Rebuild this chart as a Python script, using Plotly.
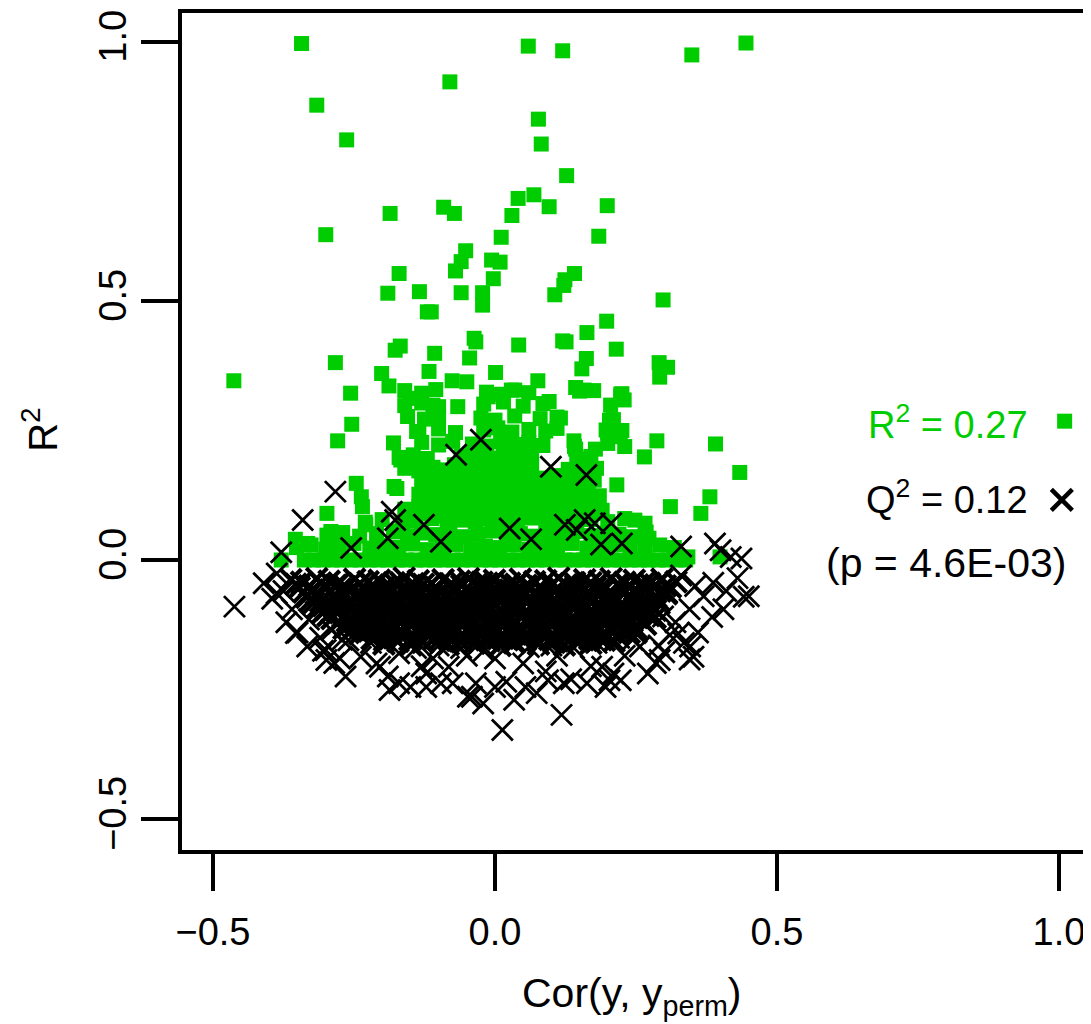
import plotly.graph_objects as go

# ---------------- data ----------------
# Permuted models: R2Y (green squares), scattered outliers
r2_out_x = [-0.343, 0.059, 0.120, 0.349, 0.445, -0.080, -0.316, 0.077, -0.263, 0.082,
            0.127, 0.041, 0.069, 0.096, 0.199, -0.186, -0.091, -0.072, 0.030, -0.300,
            0.011, 0.184, -0.052, -0.060, -0.070, -0.006, 0.009, -0.003, -0.170, 0.141,
            0.124, 0.122, 0.106, -0.190, -0.134, -0.060, -0.022, -0.022, 0.298, -0.120,
            -0.113, 0.198, 0.163, -0.037, -0.034, 0.042, 0.120, 0.126, -0.177, -0.168,
            -0.107, -0.045, 0.215, -0.283, 0.162, 0.154, 0.291, 0.306, 0.292, -0.463,
            -0.201, -0.188, -0.117, -0.076, -0.050, 0.001, 0.076, 0.143, 0.175, 0.223,
            0.229, -0.256, -0.151, -0.110, -0.066, -0.012, 0.029, 0.096, 0.116, 0.203,
            -0.254, -0.279, -0.180, -0.139, 0.197, 0.222, 0.287, 0.391, 0.265, 0.143,
            0.178, 0.434, 0.216, 0.381, 0.311, 0.365, 0.399, -0.246, -0.237, -0.235,
            -0.229, -0.298, -0.174, -0.158, -0.354, -0.332, -0.291, -0.279, 0.248, 0.266,
            0.273, 0.317, 0.342, -0.167, -0.179, 0.158, 0.223, 0.141, 0.176]
r2_out_y = [0.997, 0.992, 0.983, 0.975, 0.998, 0.923, 0.878, 0.851, 0.811, 0.803,
            0.742, 0.698, 0.705, 0.682, 0.684, 0.669, 0.681, 0.669, 0.665, 0.628,
            0.623, 0.625, 0.597, 0.576, 0.558, 0.579, 0.575, 0.543, 0.553, 0.553,
            0.541, 0.530, 0.512, 0.515, 0.518, 0.516, 0.516, 0.492, 0.502, 0.479,
            0.479, 0.461, 0.439, 0.428, 0.421, 0.415, 0.423, 0.421, 0.405, 0.413,
            0.399, 0.390, 0.407, 0.381, 0.389, 0.369, 0.381, 0.372, 0.353, 0.346,
            0.360, 0.336, 0.364, 0.346, 0.344, 0.362, 0.346, 0.333, 0.327, 0.320,
            0.309, 0.322, 0.312, 0.299, 0.296, 0.315, 0.328, 0.306, 0.274, 0.270,
            0.262, 0.230, 0.226, 0.248, 0.251, 0.238, 0.230, 0.224, 0.199, 0.214,
            0.214, 0.169, 0.145, 0.122, 0.103, 0.090, 0.006, 0.148, 0.122, 0.103,
            0.068, 0.090, 0.138, 0.093, 0.040, 0.032, 0.055, 0.039, 0.077, 0.071,
            0.042, 0.019, 0.006, 0.193, 0.142, 0.328, 0.315, 0.219, 0.154]

# R2Y permuted models: dense part (read row by row from the green mass)
r2_zero_x = [-0.379, -0.338, -0.322, -0.305, -0.289, -0.272, -0.256, -0.239, -0.223, -0.206,
             -0.190, -0.173, -0.157, -0.140, -0.124, -0.107, -0.091, -0.074, -0.058, -0.041,
             -0.025, -0.008, 0.008, 0.025, 0.041, 0.058, 0.074, 0.091, 0.107, 0.124,
             0.140, 0.157, 0.173, 0.190, 0.206, 0.223, 0.239, 0.256, 0.272, 0.289,
             0.305, 0.322, 0.338]
r2_zero_y = [0.0] * 43  # R2 values of 0 (flat band at zero)

r2_a_x = [-0.352, -0.326, -0.300, -0.276, -0.250, -0.222, -0.197, -0.171, -0.146, -0.120,
          -0.094, -0.069, -0.043, -0.017, 0.008, 0.034, 0.060, 0.086, 0.111, 0.137,
          0.163, 0.189, 0.214, 0.240, 0.266, 0.292, 0.318]
r2_a_y = [0.024, 0.029, 0.021, 0.027, 0.032, 0.023, 0.028, 0.025, 0.031, 0.020,
          0.026, 0.030, 0.022, 0.027, 0.024, 0.029, 0.021, 0.028, 0.025, 0.032,
          0.023, 0.027, 0.030, 0.022, 0.026, 0.029, 0.024]
r2_b_x = [-0.298, -0.270, -0.240, -0.210, -0.180, -0.155, -0.130, -0.105, -0.080, -0.055,
          -0.030, -0.005, 0.020, 0.045, 0.070, 0.095, 0.120, 0.145, 0.170, 0.195,
          0.220, 0.245, 0.268]
r2_b_y = [0.048, 0.053, 0.046, 0.051, 0.055, 0.047, 0.052, 0.049, 0.054, 0.045,
          0.050, 0.056, 0.048, 0.051, 0.046, 0.053, 0.049, 0.055, 0.047, 0.052,
          0.050, 0.045, 0.054]
r2_c_x = [-0.230, -0.200, -0.165, -0.140, -0.112, -0.085, -0.060, -0.035, -0.010, 0.015,
          0.040, 0.065, 0.090, 0.115, 0.140, 0.170, 0.200, 0.230]
r2_c_y = [0.073, 0.078, 0.071, 0.076, 0.080, 0.072, 0.077, 0.074, 0.079, 0.070,
          0.075, 0.081, 0.073, 0.076, 0.071, 0.078, 0.074, 0.080]
r2_n_x = [-0.148, -0.122, -0.097, -0.072, -0.047, -0.022, 0.003, 0.028, 0.053, 0.078,
          0.103, 0.128, 0.153, 0.178]
r2_n_y = [0.087, 0.090, 0.085, 0.089, 0.092, 0.086, 0.088, 0.091, 0.084, 0.089,
          0.087, 0.093, 0.086, 0.090]
r2_d_x = [-0.160, -0.135, -0.110, -0.085, -0.060, -0.035, -0.010, 0.015, 0.040, 0.065,
          0.090, 0.115, 0.140, 0.165, 0.190]
r2_d_y = [0.098, 0.103, 0.096, 0.101, 0.105, 0.097, 0.102, 0.099, 0.104, 0.095,
          0.100, 0.106, 0.098, 0.101, 0.096]
r2_o_x = [-0.122, -0.097, -0.072, -0.047, -0.022, 0.003, 0.028, 0.053, 0.078, 0.103,
          0.128, 0.153, 0.176]
r2_o_y = [0.111, 0.114, 0.109, 0.113, 0.116, 0.110, 0.112, 0.115, 0.108, 0.113,
          0.111, 0.117, 0.110]
r2_e_x = [-0.135, -0.110, -0.085, -0.060, -0.035, -0.010, 0.015, 0.040, 0.065, 0.090,
          0.115, 0.140, 0.165, 0.185]
r2_e_y = [0.127, 0.122, 0.129, 0.124, 0.120, 0.128, 0.123, 0.126, 0.121, 0.130,
          0.125, 0.119, 0.127, 0.124]
r2_p_x = [-0.118, -0.092, -0.067, -0.042, -0.017, 0.008, 0.033, 0.058, 0.083, 0.108,
          0.133, 0.158]
r2_p_y = [0.136, 0.139, 0.134, 0.138, 0.141, 0.135, 0.137, 0.140, 0.133, 0.138,
          0.136, 0.142]
r2_f_x = [-0.130, -0.105, -0.080, -0.055, -0.030, -0.005, 0.020, 0.045, 0.070, 0.095,
          0.120, 0.145]
r2_f_y = [0.148, 0.153, 0.146, 0.151, 0.155, 0.147, 0.152, 0.149, 0.154, 0.145,
          0.150, 0.156]
r2_q_x = [-0.118, -0.093, -0.068, -0.043, -0.018, 0.007, 0.032, 0.057, 0.082, 0.107, 0.140]
r2_q_y = [0.161, 0.164, 0.159, 0.163, 0.166, 0.160, 0.162, 0.165, 0.158, 0.163, 0.161]
r2_g_x = [-0.160, -0.135, -0.110, -0.085, -0.060, -0.035, -0.010, 0.015, 0.040, 0.065,
          0.130, 0.155, 0.180]
r2_g_y = [0.177, 0.172, 0.179, 0.174, 0.170, 0.178, 0.173, 0.176, 0.171, 0.180,
          0.175, 0.169, 0.177]
r2_r_x = [-0.148, -0.122, -0.072, -0.047, -0.022, 0.003, 0.028, 0.053, 0.160]
r2_r_y = [0.186, 0.189, 0.184, 0.188, 0.191, 0.185, 0.187, 0.190, 0.183]
r2_h_x = [-0.170, -0.145, -0.120, -0.060, -0.035, -0.010, 0.015, 0.040, 0.065, 0.145, 0.170]
r2_h_y = [0.198, 0.203, 0.196, 0.201, 0.205, 0.197, 0.202, 0.199, 0.204, 0.195, 0.200]
r2_i_x = [-0.130, -0.100, -0.075, -0.040, -0.015, 0.010, 0.035, 0.060, 0.085, 0.140, 0.200, 0.230]
r2_i_y = [0.227, 0.222, 0.229, 0.224, 0.220, 0.228, 0.223, 0.226, 0.221, 0.230, 0.225, 0.219]
r2_j_x = [-0.135, -0.100, -0.070, -0.020, 0.005, 0.030, 0.060, 0.090, 0.110, 0.200, 0.225]
r2_j_y = [0.248, 0.253, 0.246, 0.251, 0.255, 0.247, 0.252, 0.249, 0.254, 0.245, 0.250]
r2_k_x = [-0.155, -0.125, -0.100, -0.025, 0.000, 0.035, 0.080, 0.110, 0.210]
r2_k_y = [0.277, 0.272, 0.279, 0.274, 0.270, 0.278, 0.273, 0.276, 0.271]
r2_l_x = [-0.160, -0.130, -0.100, -0.020, 0.015, 0.050, 0.085, 0.205]
r2_l_y = [0.298, 0.303, 0.296, 0.301, 0.305, 0.297, 0.302, 0.299]
r2_m_x = [-0.160, -0.130, -0.105, -0.015, 0.010, 0.035, 0.060, 0.150, 0.225]
r2_m_y = [0.327, 0.322, 0.329, 0.324, 0.320, 0.328, 0.323, 0.326, 0.321]

# Permuted models: Q2Y (black crosses), above zero and outer fringe
q2_out_x = [-0.283, -0.341, -0.183, -0.177, -0.190, -0.126, -0.069, -0.025, 0.099, 0.162,
            0.026, 0.124, 0.159, 0.206, 0.225, 0.390, 0.418, 0.330, 0.145, 0.177,
            -0.379, -0.255, 0.064, -0.096, 0.188,
            -0.462, -0.387, -0.387, -0.333, -0.265, -0.190, -0.150, -0.075, -0.021, 0.013,
            0.118, 0.034, 0.163, 0.203, 0.271, 0.352, 0.346, 0.437, 0.441, 0.387,
            0.400, 0.298, 0.325, 0.257, -0.299, -0.238, -0.082, 0.074, -0.048, -0.187,
            -0.122, -0.034, 0.054, 0.210, 0.170, 0.292, 0.196, -0.210, -0.170, -0.130,
            -0.110, -0.050, 0.000, 0.020, 0.050, 0.090, 0.110, 0.135, 0.230, 0.300,
            0.345, -0.410, -0.395, -0.375, -0.360, -0.370, -0.350, -0.330, -0.310, -0.290,
            -0.305, -0.275, -0.260, 0.330, 0.355, 0.370, 0.345, 0.320, 0.385, 0.410,
            0.430, 0.450, 0.405, 0.360, 0.335, 0.310, 0.290, -0.220, -0.140, -0.100,
            -0.060, -0.020, 0.060, 0.100, 0.140, 0.180, 0.220]
q2_out_y = [0.132, 0.077, 0.093, 0.077, 0.042, 0.068, 0.203, 0.232, 0.180, 0.164,
            0.061, 0.068, 0.077, 0.071, 0.032, 0.032, 0.006, 0.026, 0.058, 0.071,
            0.015, 0.023, 0.040, 0.035, 0.030,
            -0.090, -0.026, -0.064, -0.167, -0.225, -0.225, -0.245, -0.238, -0.277, -0.328,
            -0.299, -0.270, -0.238, -0.232, -0.219, -0.187, -0.167, 0.003, -0.071, -0.044,
            0.019, -0.109, -0.142, -0.167, -0.193, -0.187, -0.206, -0.257, -0.264, -0.251,
            -0.245, -0.238, -0.245, -0.219, -0.205, -0.193, -0.245, -0.200, -0.180, -0.205,
            -0.190, -0.185, -0.190, -0.235, -0.200, -0.215, -0.185, -0.230, -0.185, -0.178,
            -0.192, -0.045, -0.075, -0.060, -0.095, -0.120, -0.140, -0.115, -0.150, -0.135,
            -0.175, -0.190, -0.155, -0.030, -0.050, -0.070, -0.095, -0.120, -0.110, -0.060,
            -0.035, -0.070, -0.095, -0.140, -0.160, -0.145, -0.165, -0.160, -0.170, -0.165,
            -0.170, -0.175, -0.168, -0.165, -0.170, -0.160, -0.150]
# extra crosses in the lower fringe
q2_low_x = [-0.353, -0.300, -0.271, -0.285, -0.204, -0.170, -0.122, -0.096, -0.041, 0.000,
            0.094, 0.122, 0.190, 0.223, 0.285, 0.244]
q2_low_y = [-0.141, -0.174, -0.154, -0.199, -0.206, -0.238, -0.219, -0.238, -0.264, -0.245,
            -0.232, -0.238, -0.206, -0.232, -0.199, -0.154]

# Q2Y permuted models: dense black core (read row by row, top to bottom)
q2_r1_x = [-0.362, -0.343, -0.316, -0.294, -0.277, -0.249, -0.225, -0.205, -0.179, -0.161,
           -0.136, -0.113, -0.092, -0.063, -0.047, -0.023, -0.001, 0.026, 0.045, 0.070,
           0.090, 0.113, 0.141, 0.159, 0.185, 0.206, 0.230, 0.247, 0.274, 0.296, 0.321]
q2_r1_y = [-0.038, -0.043, -0.036, -0.041, -0.045, -0.037, -0.042, -0.039, -0.044, -0.035,
           -0.040, -0.046, -0.038, -0.041, -0.036, -0.043, -0.039, -0.045, -0.037, -0.042,
           -0.040, -0.035, -0.044, -0.038, -0.041, -0.036, -0.043, -0.039, -0.045, -0.037, -0.042]
q2_s1_x = [-0.353, -0.329, -0.309, -0.283, -0.265, -0.240, -0.217, -0.196, -0.167, -0.151,
           -0.127, -0.105, -0.078, -0.059, -0.034, -0.014, 0.009, 0.037, 0.055, 0.081,
           0.102, 0.126, 0.143, 0.170, 0.192, 0.217, 0.236, 0.263, 0.285, 0.302]
q2_s1_y = [-0.047, -0.050, -0.045, -0.049, -0.052, -0.046, -0.048, -0.051, -0.044, -0.049,
           -0.047, -0.053, -0.046, -0.050, -0.048, -0.045, -0.051, -0.047, -0.049, -0.052,
           -0.046, -0.048, -0.050, -0.044, -0.049, -0.047, -0.051, -0.046, -0.048, -0.050]
q2_r2_x = [-0.347, -0.324, -0.303, -0.274, -0.258, -0.234, -0.212, -0.185, -0.166, -0.141,
           -0.121, -0.098, -0.070, -0.052, -0.026, -0.005, 0.019, 0.036, 0.063, 0.085,
           0.110, 0.129, 0.156, 0.178, 0.195, 0.223, 0.247, 0.267, 0.293, 0.311]
q2_r2_y = [-0.053, -0.058, -0.051, -0.056, -0.060, -0.052, -0.057, -0.054, -0.059, -0.050,
           -0.055, -0.061, -0.053, -0.056, -0.051, -0.058, -0.054, -0.060, -0.052, -0.057,
           -0.055, -0.050, -0.059, -0.053, -0.056, -0.051, -0.058, -0.054, -0.060, -0.052]
q2_s2_x = [-0.339, -0.317, -0.290, -0.271, -0.246, -0.226, -0.203, -0.175, -0.157, -0.131,
           -0.110, -0.086, -0.069, -0.042, -0.020, 0.005, 0.024, 0.051, 0.073, 0.090,
           0.118, 0.142, 0.162, 0.188, 0.206, 0.231, 0.254, 0.275, 0.304]
q2_s2_y = [-0.062, -0.065, -0.060, -0.064, -0.067, -0.061, -0.063, -0.066, -0.059, -0.064,
           -0.062, -0.068, -0.061, -0.065, -0.063, -0.060, -0.066, -0.062, -0.064, -0.067,
           -0.061, -0.063, -0.065, -0.059, -0.064, -0.062, -0.066, -0.061, -0.063]
q2_r3_x = [-0.334, -0.311, -0.283, -0.265, -0.239, -0.218, -0.194, -0.177, -0.150, -0.128,
           -0.103, -0.084, -0.057, -0.035, -0.018, 0.010, 0.034, 0.054, 0.080, 0.098,
           0.123, 0.146, 0.167, 0.196, 0.212, 0.236, 0.258, 0.285, 0.304]
q2_r3_y = [-0.072, -0.067, -0.074, -0.069, -0.065, -0.073, -0.068, -0.071, -0.066, -0.075,
           -0.070, -0.064, -0.072, -0.069, -0.074, -0.067, -0.071, -0.065, -0.073, -0.068,
           -0.070, -0.075, -0.066, -0.072, -0.069, -0.074, -0.067, -0.071, -0.065]
q2_s3_x = [-0.326, -0.309, -0.281, -0.257, -0.237, -0.211, -0.193, -0.168, -0.145, -0.124,
           -0.095, -0.079, -0.055, -0.033, -0.006, 0.013, 0.038, 0.058, 0.081, 0.109,
           0.127, 0.153, 0.174, 0.198, 0.215, 0.242, 0.264, 0.289]
q2_s3_y = [-0.077, -0.080, -0.075, -0.079, -0.082, -0.076, -0.078, -0.081, -0.074, -0.079,
           -0.077, -0.083, -0.076, -0.080, -0.078, -0.075, -0.081, -0.077, -0.079, -0.082,
           -0.076, -0.078, -0.080, -0.074, -0.079, -0.077, -0.081, -0.076]
q2_r4_x = [-0.322, -0.304, -0.279, -0.256, -0.235, -0.206, -0.190, -0.166, -0.144, -0.117,
           -0.098, -0.073, -0.053, -0.030, -0.002, 0.016, 0.042, 0.063, 0.087, 0.104,
           0.131, 0.153, 0.178, 0.197, 0.224, 0.246, 0.263, 0.291]
q2_r4_y = [-0.083, -0.088, -0.081, -0.086, -0.090, -0.082, -0.087, -0.084, -0.089, -0.080,
           -0.085, -0.091, -0.083, -0.086, -0.081, -0.088, -0.084, -0.090, -0.082, -0.087,
           -0.085, -0.080, -0.089, -0.083, -0.086, -0.081, -0.088, -0.084]
q2_s4_x = [-0.315, -0.299, -0.275, -0.253, -0.226, -0.207, -0.182, -0.162, -0.139, -0.111,
           -0.093, -0.067, -0.046, -0.022, -0.005, 0.022, 0.044, 0.069, 0.088, 0.115,
           0.137, 0.154, 0.182, 0.206, 0.226, 0.252, 0.270]
q2_s4_y = [-0.092, -0.095, -0.090, -0.094, -0.097, -0.091, -0.093, -0.096, -0.089, -0.094,
           -0.092, -0.098, -0.091, -0.095, -0.093, -0.090, -0.096, -0.092, -0.094, -0.097,
           -0.091, -0.093, -0.095, -0.089, -0.094, -0.092, -0.096]
q2_r5_x = [-0.306, -0.281, -0.261, -0.238, -0.210, -0.192, -0.166, -0.145, -0.121, -0.104,
           -0.077, -0.055, -0.030, -0.011, 0.016, 0.038, 0.055, 0.083, 0.107, 0.127,
           0.153, 0.171, 0.196, 0.219, 0.240, 0.269, 0.285]
q2_r5_y = [-0.102, -0.097, -0.104, -0.099, -0.095, -0.103, -0.098, -0.101, -0.096, -0.105,
           -0.100, -0.094, -0.102, -0.099, -0.104, -0.097, -0.101, -0.095, -0.103, -0.098,
           -0.100, -0.105, -0.096, -0.102, -0.099, -0.104, -0.097]
q2_s5_x = [-0.296, -0.270, -0.249, -0.225, -0.208, -0.181, -0.159, -0.134, -0.115, -0.088,
           -0.066, -0.049, -0.021, 0.003, 0.023, 0.049, 0.067, 0.092, 0.115, 0.136,
           0.165, 0.181, 0.205, 0.227, 0.254, 0.273]
q2_s5_y = [-0.107, -0.110, -0.105, -0.109, -0.112, -0.106, -0.108, -0.111, -0.104, -0.109,
           -0.107, -0.113, -0.106, -0.110, -0.108, -0.105, -0.111, -0.107, -0.109, -0.112,
           -0.106, -0.108, -0.110, -0.104, -0.109, -0.107]
q2_r6_x = [-0.289, -0.262, -0.240, -0.223, -0.195, -0.171, -0.151, -0.125, -0.107, -0.082,
           -0.059, -0.038, -0.009, 0.007, 0.031, 0.053, 0.080, 0.099, 0.124, 0.144,
           0.167, 0.195, 0.213, 0.239, 0.260, 0.284]
q2_r6_y = [-0.113, -0.118, -0.111, -0.116, -0.120, -0.112, -0.117, -0.114, -0.119, -0.110,
           -0.115, -0.121, -0.113, -0.116, -0.111, -0.118, -0.114, -0.120, -0.112, -0.117,
           -0.115, -0.110, -0.119, -0.113, -0.116, -0.111]
q2_s6_x = [-0.279, -0.259, -0.233, -0.215, -0.190, -0.167, -0.146, -0.117, -0.101, -0.077,
           -0.055, -0.028, -0.009, 0.016, 0.036, 0.059, 0.087, 0.105, 0.131, 0.152,
           0.176, 0.193, 0.220, 0.242, 0.267]
q2_s6_y = [-0.122, -0.125, -0.120, -0.124, -0.127, -0.121, -0.123, -0.126, -0.119, -0.124,
           -0.122, -0.128, -0.121, -0.125, -0.123, -0.120, -0.126, -0.122, -0.124, -0.127,
           -0.121, -0.123, -0.125, -0.119, -0.124]
q2_r7_x = [-0.268, -0.247, -0.218, -0.202, -0.178, -0.156, -0.129, -0.110, -0.085, -0.065,
           -0.042, -0.014, 0.004, 0.030, 0.051, 0.075, 0.092, 0.119, 0.141, 0.166,
           0.185, 0.212, 0.234, 0.251]
q2_r7_y = [-0.132, -0.127, -0.134, -0.129, -0.125, -0.133, -0.128, -0.131, -0.126, -0.135,
           -0.130, -0.124, -0.132, -0.129, -0.134, -0.127, -0.131, -0.125, -0.133, -0.128,
           -0.130, -0.135, -0.126, -0.132]
q2_s7_x = [-0.255, -0.228, -0.209, -0.184, -0.164, -0.141, -0.113, -0.095, -0.069, -0.048,
           -0.024, -0.007, 0.020, 0.042, 0.067, 0.086, 0.113, 0.135, 0.152, 0.180,
           0.204, 0.224, 0.250]
q2_s7_y = [-0.137, -0.140, -0.135, -0.139, -0.142, -0.136, -0.138, -0.141, -0.134, -0.139,
           -0.137, -0.143, -0.136, -0.140, -0.138, -0.135, -0.141, -0.137, -0.139, -0.142,
           -0.136, -0.138, -0.140]
q2_r8_x = [-0.240, -0.212, -0.194, -0.168, -0.147, -0.123, -0.106, -0.079, -0.057, -0.032,
           -0.013, 0.014, 0.036, 0.053, 0.081, 0.105, 0.125, 0.151, 0.169, 0.194,
           0.217, 0.238]
q2_r8_y = [-0.143, -0.148, -0.141, -0.146, -0.150, -0.142, -0.147, -0.144, -0.149, -0.140,
           -0.145, -0.151, -0.143, -0.146, -0.141, -0.148, -0.144, -0.150, -0.142, -0.147,
           -0.145, -0.140]
q2_s8_x = [-0.218, -0.196, -0.179, -0.151, -0.127, -0.107, -0.081, -0.063, -0.038, -0.015,
           0.006, 0.035, 0.051, 0.075, 0.097, 0.124, 0.143, 0.168, 0.188, 0.211]
q2_s8_y = [-0.152, -0.155, -0.150, -0.154, -0.157, -0.151, -0.153, -0.156, -0.149, -0.154,
           -0.152, -0.158, -0.151, -0.155, -0.153, -0.150, -0.156, -0.152, -0.154, -0.157]
q2_r9_x = [-0.197, -0.172, -0.149, -0.128, -0.099, -0.083, -0.059, -0.037, -0.010, 0.009,
           0.034, 0.054, 0.077, 0.105, 0.123, 0.149, 0.170, 0.194]
q2_r9_y = [-0.162, -0.157, -0.164, -0.159, -0.155, -0.163, -0.158, -0.161, -0.156, -0.165,
           -0.160, -0.154, -0.162, -0.159, -0.164, -0.157, -0.161, -0.155]

# Original (non-permuted) model
model_cor = [1.01, 1.005]
model_r2 = 0.268
model_q2 = 0.116

x_tickvals = [-0.5, 0.0, 0.5, 1.0]
x_ticktext = ["\u22120.5", "0.0", "0.5", "1.0"]
y_tickvals = [-0.5, 0.0, 0.5, 1.0]
y_ticktext = ["\u22120.5", "0.0", "0.5", "1.0"]

label_r2 = "R<sup>2</sup> = 0.27"
label_q2 = "Q<sup>2</sup> = 0.12"
label_p = "(p = 4.6E-03)"

# ---------------- assemble ----------------
r2_x = (r2_zero_x + r2_a_x + r2_b_x + r2_c_x + r2_n_x + r2_d_x + r2_o_x + r2_e_x + r2_p_x
        + r2_f_x + r2_q_x + r2_g_x + r2_r_x + r2_h_x + r2_i_x + r2_j_x + r2_k_x + r2_l_x
        + r2_m_x + r2_out_x)
r2_y = (r2_zero_y + r2_a_y + r2_b_y + r2_c_y + r2_n_y + r2_d_y + r2_o_y + r2_e_y + r2_p_y
        + r2_f_y + r2_q_y + r2_g_y + r2_r_y + r2_h_y + r2_i_y + r2_j_y + r2_k_y + r2_l_y
        + r2_m_y + r2_out_y)
q2_core_x = (q2_r1_x + q2_s1_x + q2_r2_x + q2_s2_x + q2_r3_x + q2_s3_x + q2_r4_x + q2_s4_x
             + q2_r5_x + q2_s5_x + q2_r6_x + q2_s6_x + q2_r7_x + q2_s7_x + q2_r8_x + q2_s8_x
             + q2_r9_x)
q2_core_y = (q2_r1_y + q2_s1_y + q2_r2_y + q2_s2_y + q2_r3_y + q2_s3_y + q2_r4_y + q2_s4_y
             + q2_r5_y + q2_s5_y + q2_r6_y + q2_s6_y + q2_r7_y + q2_s7_y + q2_r8_y + q2_s8_y
             + q2_r9_y)
q2_edge_x = q2_out_x + q2_low_x
q2_edge_y = q2_out_y + q2_low_y

GREEN = "#00CD00"
FONT = "Liberation Sans, Arial, Helvetica, sans-serif"

fig = go.Figure()
fig.add_trace(go.Scatter(x=r2_x, y=r2_y, mode="markers",
                         marker=dict(symbol="square", size=15, color=GREEN, line=dict(width=0)),
                         hoverinfo="skip", showlegend=False))
# dense core: heavy overlap renders as solid black in the original
fig.add_trace(go.Scatter(x=q2_core_x, y=q2_core_y, mode="markers",
                         marker=dict(symbol="x-thin", size=21, color="black",
                                     line=dict(width=4.2, color="black")),
                         hoverinfo="skip", showlegend=False))
fig.add_trace(go.Scatter(x=q2_edge_x, y=q2_edge_y, mode="markers",
                         marker=dict(symbol="x-thin", size=21, color="black",
                                     line=dict(width=2.8, color="black")),
                         hoverinfo="skip", showlegend=False))
fig.add_trace(go.Scatter(x=[model_cor[0]], y=[model_r2], mode="markers",
                         marker=dict(symbol="square", size=15, color=GREEN, line=dict(width=0)),
                         hoverinfo="skip", showlegend=False))
fig.add_trace(go.Scatter(x=[model_cor[1]], y=[model_q2], mode="markers",
                         marker=dict(symbol="x-thin", size=21, color="black",
                                     line=dict(width=4.5, color="black")),
                         hoverinfo="skip", showlegend=False))

axis_common = dict(showgrid=False, zeroline=False, showline=False, ticks="outside",
                   ticklen=38, tickwidth=4, tickcolor="black",
                   tickfont=dict(family=FONT, size=38, color="black"))

# page body has an 8px default margin, so the figure is 8px smaller than the window
fig.update_layout(
    width=1083, height=1016,
    margin=dict(l=172, r=2, t=3, b=172),
    paper_bgcolor="white", plot_bgcolor="white",
    xaxis=dict(range=[-0.5585, 1.0532], tickmode="array", tickvals=x_tickvals,
               ticktext=x_ticktext, ticklabelstandoff=8, **axis_common),
    yaxis=dict(range=[-0.5637, 1.0598], tickmode="array", tickvals=y_tickvals,
               ticktext=y_ticktext, tickangle=-90, ticklabelstandoff=0, **axis_common),
    shapes=[dict(type="rect", xref="paper", yref="paper", x0=0, x1=1, y0=0, y1=1,
                 line=dict(color="black", width=4), layer="above")],
    annotations=[
        dict(text="Cor(y, y<sub>perm</sub>)", xref="paper", yref="paper",
             x=0.497, y=-0.171, xanchor="center", yanchor="middle", showarrow=False,
             font=dict(family=FONT, size=41, color="black")),
        dict(text="R<sup>2</sup>", xref="paper", yref="paper", x=-0.154, y=0.502,
             xanchor="center", yanchor="middle", textangle=-90, showarrow=False,
             font=dict(family=FONT, size=40, color="black")),
        dict(text=label_r2, xref="x", yref="y", x=0.9486, y=0.267,
             xanchor="right", yanchor="middle", showarrow=False,
             font=dict(family=FONT, size=38, color=GREEN)),
        dict(text=label_q2, xref="x", yref="y", x=0.9486, y=0.1216,
             xanchor="right", yanchor="middle", showarrow=False,
             font=dict(family=FONT, size=38, color="black")),
        dict(text=label_p, xref="x", yref="y", x=1.016, y=-0.0058,
             xanchor="right", yanchor="middle", showarrow=False,
             font=dict(family=FONT, size=41, color="black")),
    ],
)

fig.write_html("out.html")
